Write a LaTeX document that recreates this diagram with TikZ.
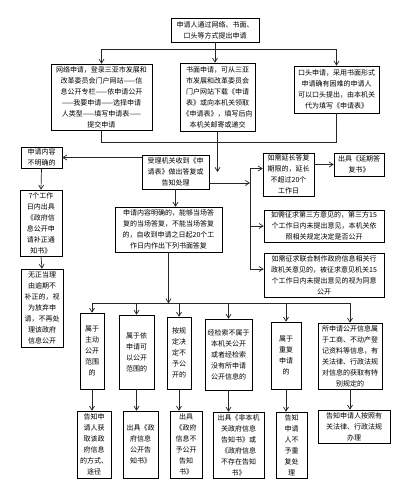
\documentclass[tikz,border=0pt]{standalone}
\usepackage{fontspec}
\newfontfamily\cjk{Noto Sans CJK SC}
\usetikzlibrary{arrows.meta,positioning,calc}
\tikzset{
  box/.style = {draw, line width=0.6pt, align=center, inner sep=0pt,
                font=\cjk\fontsize{7}{11}\selectfont},
  ln/.style  = {line width=0.7pt, draw=black!85},
  ar/.style  = {ln, -{Straight Barb[length=4pt,width=5pt]}}
}
\begin{document}
\begin{tikzpicture}[x=1pt, y=-1pt]
  \useasboundingbox (0,0) rectangle (419,490);
  % application
  \node[box, minimum width=88, minimum height=24] (apply) at (215,30)
        {申请人通过网络、书面、\\口头等方式提出申请};
  \node[box, minimum width=101, minimum height=66] (net) at (101.5,97)
        {网络申请，登录三亚市发展和\\改革委员会门户网站——信\\息公开专栏——依申请公开\\——我要申请——选择申请\\人类型——填写申请表——\\提交申请};
  \node[box, minimum width=75, minimum height=68] (paper) at (217.5,97)
        {书面申请，可从三亚\\市发展和改革委员会\\门户网站下载《申请\\表》或向本机关领取\\《申请表》，填写后向\\本机关邮寄或递交};
  \node[box, minimum width=85, minimum height=47] (oral) at (336.5,89.5)
        {口头申请，采用书面形式\\申请确有困难的申请人\\可以口头提出，由本机关\\代为填写《申请表》};
  % acceptance
  \node[box, minimum width=67, minimum height=34] (accept) at (175.5,172)
        {受理机关收到《申\\请表》做出答复或\\告知处理};
  \node[box, minimum width=41, minimum height=21] (unclear) at (41.5,157.5)
        {申请内容\\不明确的};
  \node[box, minimum width=42, minimum height=66] (amend) at (41,223)
        {7个工作\\日内出具\\《政府信\\息公开申\\请补正通\\知书》};
  \node[box, minimum width=42, minimum height=78] (giveup) at (42,308)
        {无正当理\\由逾期不\\补正的，视\\为放弃申\\请，不再处\\理该政府\\信息公开};
  \node[box, minimum width=107, minimum height=45] (clear) at (168.5,229.5)
        {申请内容明确的，能够当场答\\复的当场答复，不能当场答复\\的，自收到申请之日起20个工\\作日内作出下列书面答复};
  \node[box, minimum width=51, minimum height=43] (extend) at (288.5,174.5)
        {如需延长答复\\期限的，延长\\不超过20个\\工作日};
  \node[box, minimum width=50, minimum height=23] (delay) at (359,164.5)
        {出具《延期答\\复书》};
  \node[box, minimum width=120, minimum height=32] (third) at (324,226)
        {如需征求第三方意见的，第三方15\\个工作日内未提出意见，本机关依\\照相关规定决定是否公开};
  \node[box, minimum width=120, minimum height=44] (joint) at (324,275)
        {如需征求联合制作政府信息相关行\\政机关意见的，被征求意见机关15\\个工作日内未提出意见的视为同意\\公开};
  % replies
  \node[box, minimum width=24, minimum height=76] (active) at (92,351)
        {属于\\主动\\公开\\范围\\的};
  \node[box, minimum width=35, minimum height=74] (open) at (136.5,352)
        {属于依\\申请可\\以公开\\范围的};
  \node[box, minimum width=24, minimum height=72] (closed) at (179,353)
        {按规\\定决\\定不\\予公\\开的};
  \node[box, minimum width=47, minimum height=71] (none) at (228.5,354.5)
        {经检索不属于\\本机关公开\\或者经检索\\没有所申请\\公开信息的};
  \node[box, minimum width=30, minimum height=67] (repeat) at (286,355.5)
        {属于\\重复\\申请\\的};
  \node[box, minimum width=64, minimum height=66] (special) at (350,356)
        {所申请公开信息属\\于工商、不动产登\\记资料等信息，有\\关法律、行政法规\\对信息的获取有特\\别规定的};
  \node[box, minimum width=34, minimum height=67] (activeR) at (94,444.5)
        {告知申\\请人获\\取该政\\府信息\\的方式、\\途径};
  \node[box, minimum width=35, minimum height=67] (openR) at (140.5,444.5)
        {出具《政\\府信息\\公开告\\知书》};
  \node[box, minimum width=32, minimum height=67] (closedR) at (186,444.5)
        {出具\\《政府\\信息不\\予公开\\告知\\书》};
  \node[box, minimum width=51, minimum height=66] (noneR) at (238.5,445)
        {出具《非本机\\关政府信息\\告知书》或\\《政府信息\\不存在告知\\书》};
  \node[box, minimum width=31, minimum height=66] (repeatR) at (291.5,445)
        {告知\\申请\\人不\\予重\\复处\\理};
  \node[box, minimum width=72, minimum height=33] (specialR) at (354,426.5)
        {告知申请人按照有\\关法律、行政法规\\办理};

  % top fan-out
  \draw[ln] (apply.south) -- ++(0,7) coordinate (tj);
  \draw[ln] (net.north |- tj) -- (oral.north |- tj);
  \draw[ar] (net.north |- tj) -- (net.north);
  \draw[ar] (tj) -- (tj |- paper.north);
  \draw[ar] (oral.north |- tj) -- (oral.north);
  % collect
  \draw[ln] (net.south) -- ++(0,12) coordinate (bj) -- (bj -| oral.south) -- (oral.south);
  \draw[ar] (paper.south) -- (paper.south |- accept.east);
  % left branch
  \draw[ar] (accept.west |- unclear.east) -- (unclear.east);
  \draw[ar] (unclear.south) -- (amend.north);
  \draw[ar] (amend.south) -- (giveup.north);
  % right branch
  \coordinate (rb) at (250,183);
  \coordinate (extendIn) at ([yshift=6pt]extend.west);
  \coordinate (jointIn) at ([yshift=6pt]joint.west);
  \draw[ar] (accept.east |- rb) -- (rb);
  \draw[ln] (rb |- extendIn) -- (rb |- jointIn);
  \draw[ar] (rb |- extendIn) -- (extendIn);
  \draw[ar] (rb |- third.west) -- (third.west);
  \draw[ar] (rb |- jointIn) -- (jointIn);
  \draw[ar] (extend.east |- delay.west) -- (delay.west);
  % clear request
  \draw[ar] (accept.south) -- (accept.south |- clear.north);
  \draw[ar] (clear.south) -- ++(0,51) coordinate (cb);
  \draw[ln] (active.north |- cb) -- (special.north |- cb);
  \foreach \n in {active,open,closed,none,repeat,special}{
    \draw[ar] (\n.north |- cb) -- (\n.north);
    \draw[ar] (\n.south) -- (\n.south |- \n R.north);
  }
\end{tikzpicture}
\end{document}
